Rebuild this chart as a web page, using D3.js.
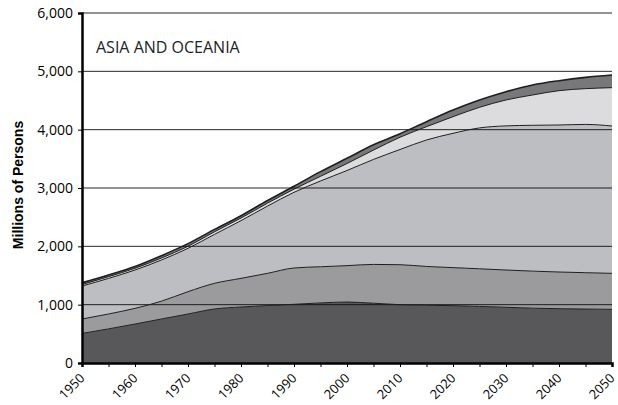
<!DOCTYPE html>
<html>
<head>
<meta charset="utf-8">
<script src="https://cdn.jsdelivr.net/npm/d3@7"></script>
<style>
  html, body { margin: 0; padding: 0; background: #fff; }
  svg { display: block; }
</style>
</head>
<body>
<svg id="chart" width="618" height="405"></svg>
<script>
const years = [1950,1955,1960,1965,1970,1975,1980,1985,1990,1995,2000,2005,2010,2015,2020,2025,2030,2035,2040,2045,2050];
const layer1 = [507,585,668,755,840,926,960,985,1006,1030,1045,1025,1000,990,983,970,955,940,931,925,920];
const layer2 = [247,255,269,305,383,440,491,552,623,620,624,665,685,665,652,645,639,635,629,623,617];
const layer3 = [566,610,657,706,743,839,989,1153,1297,1470,1631,1800,1975,2168,2302,2415,2471,2500,2520,2542,2526];
const layer4 = [25,30,30,34,35,45,45,50,54,80,120,160,210,228,286,353,444,519,589,613,657];
const layer5 = [32,30,30,40,45,40,40,45,50,80,90,90,60,86,114,126,142,172,171,194,217];
const yTicks = [0,1000,2000,3000,4000,5000,6000];
const xTicks = [1950,1960,1970,1980,1990,2000,2010,2020,2030,2040,2050];
const title = "ASIA AND OCEANIA";
const yTitle = "Millions of Persons";

const keys = ["l1","l2","l3","l4","l5"];
const colors = ["#58585a","#9b9b9d","#bdbec1","#dcdcde","#78787a"];
const table = years.map((y,i)=>({year:y,l1:layer1[i],l2:layer2[i],l3:layer3[i],l4:layer4[i],l5:layer5[i]}));

const svg = d3.select("#chart");
const m = {left:82, right:6, top:13, bottom:42};
const W = 618, H = 405;
const x = d3.scaleLinear().domain([1950,2050]).range([m.left, W - m.right]);
const y = d3.scaleLinear().domain([0,6000]).range([H - m.bottom, m.top]);

const stack = d3.stack().keys(keys)(table);
const area = d3.area().curve(d3.curveMonotoneX)
  .x(d=>x(d.data.year)).y0(d=>y(d[0])).y1(d=>y(d[1]));
const line = d3.line().curve(d3.curveMonotoneX)
  .x(d=>x(d.data.year)).y(d=>y(d[1]));

svg.append("g").selectAll("path").data(stack).join("path")
  .attr("d", area).attr("fill",(d,i)=>colors[i]);

// gridlines
svg.append("g").selectAll("line").data(yTicks.filter(t=>t>0)).join("line")
  .attr("x1", x(1950)).attr("x2", x(2050))
  .attr("y1", d=>y(d)).attr("y2", d=>y(d))
  .attr("stroke","#111").attr("stroke-width",1).attr("opacity",0.9);

// layer outlines
svg.append("g").selectAll("path").data(stack).join("path")
  .attr("d", line).attr("fill","none")
  .attr("stroke","#1e1e1e")
  .attr("stroke-width",(d,i)=> i===4 ? 1.6 : 1);

// y axis
const yAxis = d3.axisLeft(y).tickValues(yTicks).tickFormat(d3.format(",")).tickSize(4).tickPadding(5);
const gy = svg.append("g").attr("transform",`translate(${m.left},0)`).call(yAxis);
gy.select(".domain").attr("stroke","#000").attr("stroke-width",2.5);
gy.selectAll(".tick line").attr("stroke","#000");
gy.selectAll("text").attr("font-family","'Open Sans', 'Noto Sans', sans-serif").attr("font-size",14).attr("fill","#000");

// x axis
const xAxis = d3.axisBottom(x).tickValues(d3.range(1950,2051,5)).tickSize(4)
  .tickFormat(d=> xTicks.includes(d) ? d : "");
const gx = svg.append("g").attr("transform",`translate(0,${H - m.bottom})`).call(xAxis);
gx.select(".domain").attr("stroke","#000").attr("stroke-width",2.5);
gx.selectAll(".tick line").attr("stroke","#000");
gx.selectAll("text")
  .attr("font-family","'Open Sans', 'Noto Sans', sans-serif").attr("font-size",13).attr("fill","#000")
  .attr("text-anchor","end").attr("x",0).attr("y",0).attr("dy",0).attr("dx",0)
  .attr("transform","translate(3,16) rotate(-45)");

svg.append("text").attr("x",96).attr("y",53)
  .attr("font-family","'Open Sans', 'Noto Sans', sans-serif").attr("font-size",16).attr("fill","#222")
  .text(title);

svg.append("text")
  .attr("transform",`translate(23,185) rotate(-90)`)
  .attr("text-anchor","middle")
  .attr("font-family","'Liberation Sans', Arial, sans-serif").attr("font-weight","bold").attr("font-size",14)
  .attr("fill","#000")
  .text(yTitle);
</script>
</body>
</html>
